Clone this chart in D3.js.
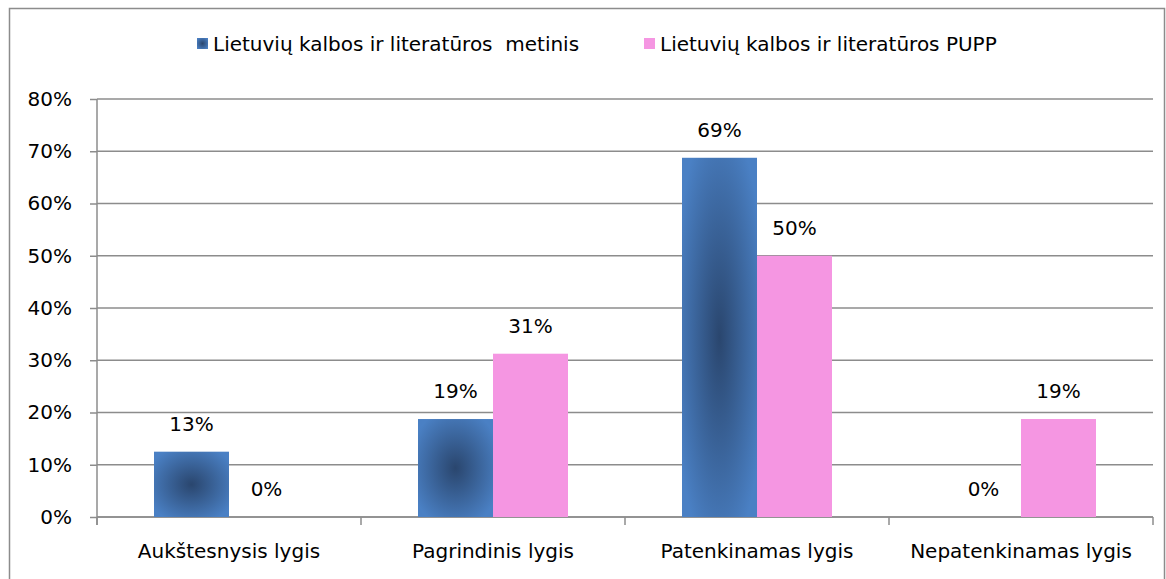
<!DOCTYPE html>
<html>
<head>
<meta charset="utf-8">
<script src="https://cdn.jsdelivr.net/npm/d3@7"></script>
<style>
  body { margin: 0; background: #fff; }
  text { font-family: "DejaVu Sans", sans-serif; fill: #000; }
</style>
</head>
<body>
<div id="canvas"></div>
<script>
const categories = ['Aukštesnysis lygis', 'Pagrindinis lygis', 'Patenkinamas lygis', 'Nepatenkinamas lygis'];
const seriesNames = ['Lietuvių kalbos ir literatūros  metinis', 'Lietuvių kalbos ir literatūros PUPP'];
const metinis = [0.125, 0.1875, 0.6875, 0];
const pupp = [0, 0.3125, 0.5, 0.1875];
const yTicks = [0, 0.1, 0.2, 0.3, 0.4, 0.5, 0.6, 0.7, 0.8];

const w = 1166;
const h = 579;
const plotLeft = 97, plotRight = 1153, plotTop = 99, plotBottom = 517;
const fontFam = '"DejaVu Sans", sans-serif';

const svg = d3.select('#canvas')
  .append('svg')
  .attr('width', w)
  .attr('height', h);

// gradient for blue series
const defs = svg.append('defs');
const grad = defs.append('radialGradient')
  .attr('id', 'blueGrad')
  .attr('cx', 0.5).attr('cy', 0.5).attr('r', 0.62);
grad.append('stop').attr('offset', '0%').attr('stop-color', '#2a466e');
grad.append('stop').attr('offset', '100%').attr('stop-color', '#4a80c4');

const colors = ['url(#blueGrad)', '#f596e2'];

// outer chart border
svg.append('rect')
  .attr('x', 9.5).attr('y', 8.5)
  .attr('width', 1155).attr('height', 620)
  .attr('fill', 'none')
  .attr('stroke', '#8c8c8c')
  .attr('stroke-width', 1.5);

const x0 = d3.scaleBand().domain(categories).range([plotLeft, plotRight]).padding(0);
const x1 = d3.scaleBand().domain([0, 1]).range([0, x0.bandwidth()]).paddingInner(0).paddingOuter(0.76);
const y = d3.scaleLinear().domain([0, 0.8]).range([plotBottom, plotTop]);

// gridlines
svg.append('g')
  .selectAll('line')
  .data(yTicks)
  .enter()
  .append('line')
  .attr('x1', plotLeft).attr('x2', plotRight)
  .attr('y1', d => y(d)).attr('y2', d => y(d))
  .attr('stroke', '#8c8c8c')
  .attr('stroke-width', 1.5);

// y axis
const yAxis = d3.axisLeft(y)
  .tickValues(yTicks)
  .tickFormat(d3.format('.0%'))
  .tickSize(7)
  .tickPadding(18);
const gy = svg.append('g')
  .attr('transform', 'translate(' + plotLeft + ',0)')
  .call(yAxis);
gy.select('.domain').remove();
gy.selectAll('.tick line').attr('stroke', '#8c8c8c').attr('stroke-width', 1.5);
gy.selectAll('.tick text').style('font-size', '20px').style('font-family', fontFam).attr('fill', '#000');
svg.append('line')
  .attr('x1', plotLeft).attr('x2', plotLeft)
  .attr('y1', plotTop).attr('y2', plotBottom + 8)
  .attr('stroke', '#8c8c8c').attr('stroke-width', 1.5);

// x axis
svg.append('line')
  .attr('x1', plotLeft).attr('x2', plotRight)
  .attr('y1', plotBottom).attr('y2', plotBottom)
  .attr('stroke', '#8c8c8c').attr('stroke-width', 1.5);
svg.append('g')
  .selectAll('line')
  .data(categories.map(c => x0(c)).concat([x0.range()[1]]))
  .enter()
  .append('line')
  .attr('x1', d => d).attr('x2', d => d)
  .attr('y1', plotBottom).attr('y2', plotBottom + 8)
  .attr('stroke', '#8c8c8c').attr('stroke-width', 1.5);
svg.append('g')
  .selectAll('text')
  .data(categories)
  .enter()
  .append('text')
  .attr('x', d => x0(d) + x0.bandwidth() / 2)
  .attr('y', 558)
  .attr('text-anchor', 'middle')
  .style('font-size', '20px')
  .text(d => d);

// bars
const series = [metinis, pupp];
series.forEach((vals, s) => {
  const g = svg.append('g');
  g.selectAll('rect')
    .data(vals)
    .enter()
    .append('rect')
    .attr('x', (d, i) => x0(categories[i]) + x1(s))
    .attr('y', d => y(d))
    .attr('width', x1.bandwidth())
    .attr('height', d => plotBottom - y(d))
    .attr('fill', colors[s]);
  g.selectAll('text')
    .data(vals)
    .enter()
    .append('text')
    .attr('x', (d, i) => x0(categories[i]) + x1(s) + x1.bandwidth() / 2)
    .attr('y', d => y(d) - 21)
    .attr('text-anchor', 'middle')
    .style('font-size', '20px')
    .text(d => d3.format('.0%')(d));
});

// legend
const legendX = [197, 644];
const legend = svg.append('g');
seriesNames.forEach((name, s) => {
  legend.append('rect')
    .attr('x', legendX[s]).attr('y', 38)
    .attr('width', 11).attr('height', 11)
    .attr('fill', colors[s]);
  legend.append('text')
    .attr('x', legendX[s] + 16).attr('y', 51)
    .style('font-size', '20px')
    .style('white-space', 'pre')
    .text(name);
});
</script>
</body>
</html>
